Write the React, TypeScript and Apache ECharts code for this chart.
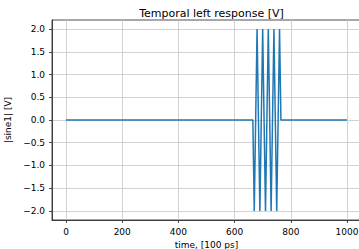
import React, { useEffect, useRef } from "react";
import * as echarts from "echarts";

const timeValues = [0, 665, 670, 680, 690, 700, 710, 720, 730, 740, 750, 760, 765, 1000];
const sineValues = [0, 0, -2, 2, -2, 2, -2, 2, -2, 2, -2, 2, 0, 0];
const xTicks = [0, 200, 400, 600, 800, 1000];
const yTicks = [-2, -1.5, -1, -0.5, 0, 0.5, 1, 1.5, 2];

const FONT = "DejaVu Sans";

export default function App() {
  const ref = useRef<HTMLDivElement>(null);
  useEffect(() => {
    const chart = echarts.init(ref.current!, null, { renderer: "svg" });
    const data = timeValues.map((t, i) => [t, sineValues[i]]);
    chart.setOption({
      animation: false,
      backgroundColor: "#ffffff",
      textStyle: { fontFamily: FONT },
      title: {
        text: "Temporal left response [V]",
        left: 206.5,
        textAlign: "center",
        top: 3,
        textStyle: { fontFamily: FONT, fontSize: 11, fontWeight: "normal", color: "#000" },
      },
      grid: {
        left: 52,
        top: 20,
        width: 309,
        height: 200,
        show: true,
        borderColor: "#222",
        borderWidth: 0.8,
        backgroundColor: "transparent",
        containLabel: false,
        outerBoundsMode: "none",
      },
      xAxis: {
        type: "value",
        min: -50,
        max: 1050,
        name: "time, [100 ps]",
        nameLocation: "middle",
        nameGap: 19,
        nameTextStyle: { fontFamily: FONT, fontSize: 9, color: "#000" },
        axisLine: { show: true, onZero: false, lineStyle: { color: "#222", width: 0.8 } },
        axisTick: { show: true, length: 3, inside: false, customValues: xTicks, lineStyle: { color: "#222", width: 0.8 } },
        axisLabel: {
          customValues: xTicks,
          margin: 7,
          fontFamily: FONT,
          fontSize: 9,
          color: "#000",
          formatter: (v: number) => String(v),
        },
        splitLine: { show: true, lineStyle: { color: "#c8c8c8", width: 0.8 } },
      },
      yAxis: {
        type: "value",
        min: -2.2,
        max: 2.2,
        name: "|sine1| [V]",
        nameLocation: "middle",
        nameGap: 30,
        nameTextStyle: { fontFamily: FONT, fontSize: 9, color: "#000" },
        axisLine: { show: true, onZero: false, lineStyle: { color: "#222", width: 0.8 } },
        axisTick: { show: true, length: 3, inside: false, customValues: yTicks, lineStyle: { color: "#222", width: 0.8 } },
        axisLabel: {
          customValues: yTicks,
          margin: 7,
          fontFamily: FONT,
          fontSize: 9,
          color: "#000",
          formatter: (v: number) => v.toFixed(1).replace("-", "\u2212"),
        },
        splitLine: { show: true, lineStyle: { color: "#c8c8c8", width: 0.8 } },
      },
      series: [
        {
          type: "line",
          data,
          showSymbol: false,
          symbol: "none",
          lineStyle: { color: "#1f77b4", width: 1.5 },
        },
      ],
    });
    return () => chart.dispose();
  }, []);
  return <div ref={ref} style={{ width: 359, height: 249, position: "absolute", left: 0, top: 0 }} />;
}
